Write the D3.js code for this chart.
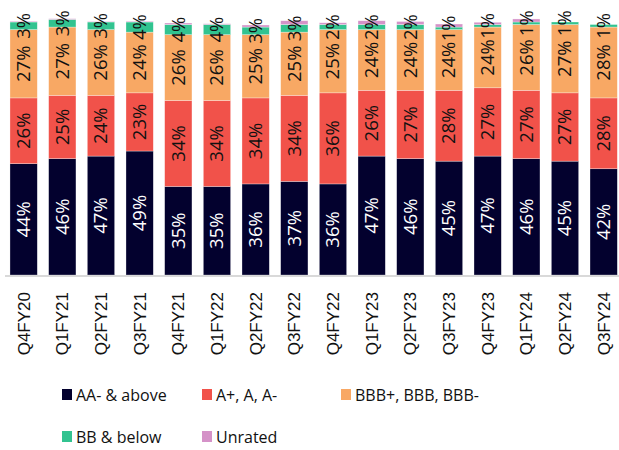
<!DOCTYPE html>
<html lang="en">
<head>
  <meta charset="UTF-8">
  <title>Rating mix</title>
  <style>
    body {
      margin: 0;
      background: #fff;
    }
    #chart {
      width: 619px;
      height: 450px;
    }
  </style>
</head>
<body>
  <div id="chart"></div>

  <script src="https://d3js.org/d3.v7.min.js"></script>
  <script>
    // Quarters on the x axis
    const quarters = ['Q4FY20', 'Q1FY21', 'Q2FY21', 'Q3FY21', 'Q4FY21', 'Q1FY22', 'Q2FY22', 'Q3FY22',
      'Q4FY22', 'Q1FY23', 'Q2FY23', 'Q3FY23', 'Q4FY23', 'Q1FY24', 'Q2FY24', 'Q3FY24'];

    // Share of book per rating bucket (%)
    const aaAbove = [44, 46, 47, 49, 35, 35, 36, 37, 36, 47, 46, 45, 47, 46, 45, 42];
    const aRange = [26, 25, 24, 23, 34, 34, 34, 34, 36, 26, 27, 28, 27, 27, 27, 28];
    const bbbRange = [27, 27, 26, 24, 26, 26, 25, 25, 25, 24, 24, 24, 24, 26, 27, 28];
    const bbBelow = [3, 3, 3, 4, 4, 4, 3, 3, 2, 2, 2, 1, 1, 1, 1, 1];
    const unrated = [0.3, 0.3, 0.2, 0.3, 0.6, 0.3, 0.8, 1.5, 0.7, 1.5, 1.2, 1.2, 0.9, 1.2, 0, 0];

    const seriesNames = ['AA- & above', 'A+, A, A-', 'BBB+, BBB, BBB-', 'BB & below', 'Unrated'];
    const seriesValues = [aaAbove, aRange, bbbRange, bbBelow, unrated];
    const colors = ['#03012e', '#f1524a', '#f8a864', '#32c390', '#d592c8'];
    const labelColors = ['#fff', '#111', '#111', '#111', null];

    const width = 619;
    const height = 450;

    const svg = d3.select('#chart')
      .append('svg')
      .attr('width', width)
      .attr('height', height);

    // build rows for d3.stack
    const rows = quarters.map((q, i) => {
      const r = { quarter: q };
      seriesNames.forEach((s, j) => { r[s] = seriesValues[j][i]; });
      return r;
    });
    const stacked = d3.stack().keys(seriesNames)(rows);

    const x = d3.scaleBand()
      .domain(quarters)
      .range([4.3, 623])
      .paddingInner(0.294)
      .paddingOuter(0.147);

    const y = d3.scaleLinear()
      .domain([0, 100])
      .range([275, 22]);

    // bars
    const layers = svg.selectAll('g.layer')
      .data(stacked)
      .join('g')
      .attr('class', 'layer')
      .attr('fill', (d, i) => colors[i]);

    layers.selectAll('rect')
      .data(d => d)
      .join('rect')
      .attr('x', d => x(d.data.quarter))
      .attr('y', d => y(d[1]))
      .attr('width', x.bandwidth())
      .attr('height', d => y(d[0]) - y(d[1]))
      .attr('stroke', 'rgba(255,255,255,0.5)')
      .attr('stroke-width', 0.6);

    // data labels, rotated
    stacked.forEach((layer, i) => {
      if (!labelColors[i]) return;
      svg.append('g')
        .selectAll('text')
        .data(layer)
        .join('text')
        .attr('transform', d => {
          const cx = x(d.data.quarter) + x.bandwidth() / 2;
          const cy = (y(d[0]) + y(d[1])) / 2;
          return `translate(${cx},${cy}) rotate(-90)`;
        })
        .attr('text-anchor', 'middle')
        .attr('dy', '0.35em')
        .attr('fill', labelColors[i])
        .style('font-family', '"Open Sans", sans-serif')
        .style('font-size', '18.5px')
        .text(d => Math.round(d[1] - d[0]) + '%');
    });

    // x axis
    const xAxis = svg.append('g')
      .attr('transform', 'translate(0,276)')
      .call(d3.axisBottom(x).tickSize(0).tickPadding(0));
    xAxis.select('.domain')
      .attr('d', 'M5,0H619')
      .attr('stroke', '#d9d9d9')
      .attr('stroke-width', 2);
    xAxis.selectAll('text')
      .attr('transform', 'translate(0,16) rotate(-90)')
      .attr('text-anchor', 'end')
      .attr('x', 0)
      .attr('y', 0)
      .attr('dy', '0.35em')
      .attr('fill', '#111')
      .style('font-family', '"Liberation Sans", Arial, sans-serif')
      .style('font-size', '17px');

    // legend
    const legendPos = [[62, 395], [202, 395], [341, 395], [62, 437], [202, 437]];
    const legend = svg.append('g')
      .selectAll('g')
      .data(seriesNames)
      .join('g')
      .attr('transform', (d, i) => `translate(${legendPos[i][0]},${legendPos[i][1]})`);
    legend.append('rect')
      .attr('x', 0)
      .attr('y', -6)
      .attr('width', 10)
      .attr('height', 11)
      .attr('fill', (d, i) => colors[i]);
    legend.append('text')
      .attr('x', 14)
      .attr('y', 0)
      .attr('dy', '0.35em')
      .attr('fill', '#111')
      .style('font-family', '"Open Sans", sans-serif')
      .style('font-size', '16px')
      .text(d => d);
  </script>
</body>
</html>
